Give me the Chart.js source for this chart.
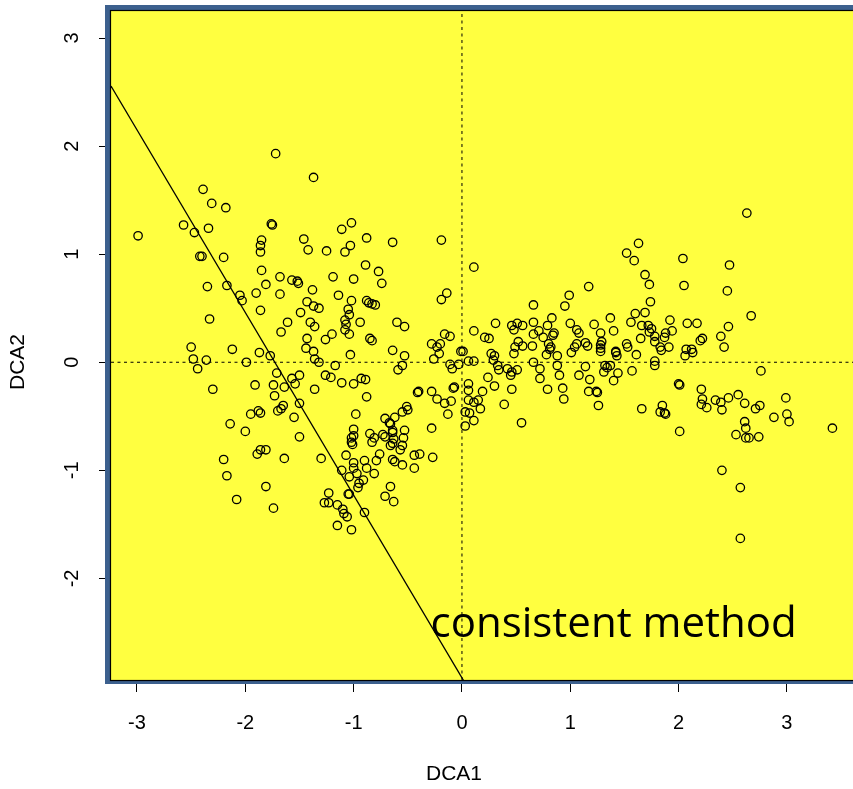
<!DOCTYPE html>
<html>
<head>
<meta charset="utf-8">
<title>DCA</title>
<script src="https://cdn.jsdelivr.net/npm/chart.js@4.4.1/dist/chart.umd.min.js"></script>
<style>
  html, body { margin: 0; padding: 0; background: #fff; }
  #wrap { width: 853px; height: 789px; position: relative; }
</style>
</head>
<body>
<div id="wrap"><canvas id="dcaChart"></canvas></div>
<script>
// ticks and axis ranges
const xTicks = [-3, -2, -1, 0, 1, 2, 3];
const yTicks = [-2, -1, 0, 1, 2, 3];
const xRange = [-3.24, 3.61];
const yRange = [-2.94, 3.25];

const xLabel = 'DCA1';
const yLabel = 'DCA2';
const noteText = 'consistent method';

// straight line drawn over the points (intercept, slope)
const lineIntercept = -2.92;
const lineSlope = -1.69;

// site scores
const dca1 = [
    -2.99,-2.39,-2.31,-2.18,-2.57,-2.47,-2.34,-2.42,-2.40,-2.20,
    -2.35,-2.17,-2.05,-2.03,-2.33,-1.90,-2.50,-2.12,-2.48,-2.36,
    -2.44,-1.99,-1.87,-2.30,-1.91,-1.95,-1.88,-1.86,-2.14,-2.00,
    -1.89,-1.86,-1.81,-2.20,-2.17,-2.08,
    -1.72,-1.37,-1.76,-1.75,-1.02,-1.11,-1.85,-1.86,-1.86,-1.46,
    -1.42,-1.25,-1.03,-1.08,-0.88,-0.64,-0.19,0.11,-1.85,-0.89,
    -0.77,-0.74,-1.68,-1.57,-1.52,-1.51,-1.19,-1.00,-1.81,-1.68,
    -1.38,-1.14,-1.02,-0.88,-0.86,-0.83,-0.80,-1.43,-1.37,-1.32,
    -1.86,-1.49,-1.05,-1.04,-1.08,-1.07,-1.08,-1.04,-1.61,-1.40,
    -1.36,-0.94,-1.67,-0.60,-0.53,-1.20,-1.26,-1.43,-1.44,-1.37,
    -1.36,-1.32,-1.77,-1.03,-0.85,-0.83,-1.17,-0.64,-0.53,-0.55,
    -0.59,-0.28,-0.23,-0.20,-0.16,-0.11,-0.21,-0.26,-0.11,-0.09,
    -0.03,-0.01,0.01,0.06,0.11,0.11,0.21,0.25,0.31,0.46,
    0.48,0.51,0.56,0.66,0.66,0.66,0.71,0.75,0.79,0.80,
    0.52,0.49,0.48,0.56,0.65,0.78,0.27,0.30,0.29,0.33,
    0.34,0.24,0.30,0.46,0.42,0.46,0.51,0.45,0.66,0.72,
    0.72,0.79,0.06,0.06,0.19,-0.08,-0.28,-0.41,-0.40,-0.88,
    -1.74,-1.73,-1.64,-1.54,-1.57,-1.50,-1.71,-1.36,-1.26,-1.21,
    -1.11,-1.00,-0.93,-0.89,-0.19,-0.14,
    -1.50,-1.55,-1.70,-1.67,-1.65,-1.50,-1.64,-1.81,-1.74,-1.30,
    -0.98,-1.00,-1.02,-1.00,-1.02,-1.01,-0.85,-0.81,-0.83,-0.73,
    -0.71,-0.71,-0.67,-0.66,-0.62,-0.64,-0.64,-0.63,-0.64,-0.66,
    -0.57,-0.55,-0.54,-0.53,-0.55,-0.51,-0.50,-0.76,-0.79,-0.90,
    -0.88,-0.81,-0.91,-0.95,-0.96,-1.04,-1.07,-1.00,-1.00,-1.04,
    -1.11,-0.97,-0.64,-0.62,-0.55,-0.44,-0.39,-0.44,-0.27,-0.28,
    -0.66,-0.71,-0.63,-1.23,-1.27,-1.23,-1.15,-1.10,-1.09,-1.06,
    -1.05,-0.90,-1.15,-1.02,-0.23,-0.16,-0.10,-0.07,-0.13,0.11,
    0.06,0.03,0.07,0.03,0.11,0.15,0.17,0.39,0.55,
    2.63,1.63,1.52,1.59,2.04,2.47,1.69,1.73,2.05,1.17,
    0.99,0.95,2.45,1.74,1.69,1.60,1.56,1.37,1.22,1.40,
    1.28,1.29,1.28,1.28,2.67,2.46,2.39,2.08,2.17,1.92,
    1.94,1.88,1.87,1.66,1.72,1.75,1.73,1.78,1.65,1.78,
    2.20,2.22,2.42,2.07,2.12,1.52,1.53,1.42,1.83,1.91,
    0.83,0.85,0.84,0.82,1.00,1.06,1.08,1.06,1.14,1.16,1.04,
    0.81,0.88,0.88,0.90,1.01,1.28,1.14,1.08,1.18,0.93,
    0.94,1.17,1.24,1.25,1.26,1.32,1.34,1.37,1.31,1.44,
    1.40,1.42,1.43,1.61,1.57,1.84,1.78,1.78,2.06,2.13,
    2.76,1.66,2.00,2.01,2.01,1.83,1.85,1.88,1.87,2.21,
    2.22,2.21,2.26,2.34,2.39,2.40,2.46,2.55,2.61,2.71,
    2.75,2.61,2.62,2.53,2.62,2.65,2.74,2.99,3.00,3.02,
    2.88,3.42,2.40,2.57,2.57
];
const dca2 = [
    1.17,1.60,1.47,1.43,1.27,1.20,1.24,0.98,0.98,0.97,
    0.70,0.71,0.62,0.57,0.40,0.64,0.14,0.12,0.03,0.02,
    -0.06,0.00,0.09,-0.25,-0.21,-0.48,-0.45,-0.47,-0.57,-0.64,
    -0.85,-0.81,-0.81,-0.90,-1.05,-1.27,
    1.93,1.71,1.28,1.27,1.29,1.23,1.13,1.08,1.02,1.14,
    1.04,1.03,1.08,1.02,1.15,1.11,1.13,0.88,0.85,0.90,
    0.84,0.73,0.79,0.76,0.75,0.73,0.79,0.77,0.72,0.63,
    0.67,0.62,0.57,0.57,0.55,0.54,0.53,0.56,0.52,0.50,
    0.48,0.46,0.49,0.44,0.39,0.35,0.30,0.26,0.37,0.37,
    0.33,0.37,0.28,0.37,0.33,0.26,0.21,0.22,0.13,0.10,
    0.03,0.00,0.06,0.07,0.22,0.20,-0.03,0.11,0.06,-0.03,
    -0.07,0.17,0.14,0.17,0.26,0.24,0.08,0.03,-0.02,-0.06,
    -0.02,0.10,0.10,0.01,0.01,0.29,0.23,0.22,0.36,0.34,
    0.30,0.36,0.34,0.53,0.37,0.26,0.29,0.23,0.34,0.17,
    0.19,0.14,0.08,0.15,0.15,0.07,0.08,0.06,0.02,-0.03,
    -0.07,-0.14,-0.22,-0.25,-0.06,-0.09,-0.07,-0.12,0.00,-0.06,
    -0.15,-0.25,-0.20,-0.26,-0.27,-0.24,-0.27,-0.28,-0.27,-0.32,
    -0.21,-0.31,-0.23,-0.20,-0.15,-0.12,-0.10,-0.25,-0.12,-0.14,
    -0.19,-0.20,-0.15,-0.16,0.58,0.64,
    -0.38,-0.51,-0.45,-0.43,-0.40,-0.69,-0.89,-1.15,-1.35,-0.89,
    -0.48,-0.62,-0.70,-0.68,-0.74,-0.76,-0.66,-0.70,-0.74,-0.67,
    -0.69,-0.52,-0.56,-0.57,-0.51,-0.63,-0.65,-0.71,-0.75,-0.77,
    -0.81,-0.77,-0.70,-0.63,-0.46,-0.41,-0.44,-0.85,-0.91,-0.91,
    -0.98,-1.03,-1.09,-1.12,-1.16,-1.22,-0.86,-0.93,-0.98,-1.06,
    -1.00,-1.03,-0.90,-0.92,-0.95,-0.86,-0.85,-0.98,-0.88,-0.61,
    -1.15,-1.24,-1.29,-1.21,-1.30,-1.30,-1.32,-1.36,-1.40,-1.43,
    -1.22,-1.39,-1.51,-1.55,-0.34,-0.38,-0.36,-0.23,-0.48,-0.37,
    -0.35,-0.46,-0.47,-0.59,-0.54,-0.35,-0.43,-0.39,-0.56,
    1.38,1.10,1.01,0.94,0.96,0.90,0.81,0.72,0.71,0.70,
    0.62,0.52,0.66,0.56,0.46,0.45,0.37,0.41,0.35,0.29,
    0.27,0.19,0.16,0.13,0.43,0.33,0.24,0.36,0.36,0.39,
    0.29,0.27,0.23,0.34,0.34,0.31,0.28,0.24,0.22,0.19,
    0.20,0.22,0.14,0.12,0.12,0.17,0.14,0.10,0.14,0.14,
    0.41,0.27,0.25,0.14,0.36,0.30,0.27,0.17,0.18,0.15,0.14,
    0.12,0.06,-0.03,-0.12,0.09,0.10,-0.04,-0.12,-0.16,-0.24,
    -0.34,-0.27,-0.27,-0.28,-0.40,-0.03,-0.05,-0.03,-0.09,-0.10,
    -0.17,0.09,0.06,0.07,-0.08,0.11,0.01,-0.03,0.06,0.09,
    -0.08,-0.43,-0.20,-0.21,-0.64,-0.46,-0.40,-0.48,-0.47,-0.25,
    -0.34,-0.39,-0.42,-0.35,-0.37,-0.44,-0.33,-0.30,-0.38,-0.43,
    -0.40,-0.55,-0.61,-0.67,-0.70,-0.70,-0.69,-0.33,-0.48,-0.55,
    -0.51,-0.61,-1.00,-1.16,-1.63
];

const sites = dca1.map((x, i) => ({ x: x, y: dca2[i] }));

// R-style plot frame: yellow panel with a blue edge and a thin black box
const framePlugin = {
    id: 'frame',
    beforeDatasetsDraw(chart) {
        const { ctx, chartArea: a } = chart;
        ctx.save();
        ctx.fillStyle = 'rgb(60,96,142)';
        ctx.fillRect(a.left - 6, a.top - 6, a.right - a.left + 6, a.bottom - a.top + 10);
        ctx.fillStyle = '#ffff40';
        ctx.fillRect(a.left, a.top, a.right - a.left, a.bottom - a.top);
        ctx.strokeStyle = '#000';
        ctx.lineWidth = 1.2;
        ctx.strokeRect(a.left - 0.5, a.top - 0.5, a.right - a.left + 2, a.bottom - a.top + 1);
        ctx.restore();
    },
    afterDraw(chart) {
        const ctx = chart.ctx;
        const xs = chart.scales.x;
        const ys = chart.scales.y;
        ctx.save();
        ctx.fillStyle = '#000';
        // note inside the panel
        ctx.font = '42px "Open Sans"';
        ctx.textAlign = 'left';
        ctx.textBaseline = 'alphabetic';
        ctx.fillText(noteText, xs.getPixelForValue(-0.29), ys.getPixelForValue(-2.54));
        // axis titles
        ctx.font = '21px "Liberation Sans", Arial, sans-serif';
        ctx.textAlign = 'center';
        ctx.textBaseline = 'middle';
        ctx.fillText(xLabel, 454, 774);
        ctx.translate(18, 362);
        ctx.rotate(-Math.PI / 2);
        ctx.fillText(yLabel, 0, 0);
        ctx.restore();
    }
};

const ctx = document.getElementById('dcaChart').getContext('2d');
// eslint-disable-next-line no-undef
new Chart(ctx, {
    type: 'scatter',
    data: {
        datasets: [
            {
                label: 'axis0x',
                data: [{ x: 0, y: yRange[0] }, { x: 0, y: yRange[1] }],
                showLine: true,
                borderColor: '#000',
                borderWidth: 1,
                borderDash: [3, 3.5],
                pointRadius: 0
            },
            {
                label: 'axis0y',
                data: [{ x: xRange[0], y: 0 }, { x: xRange[1], y: 0 }],
                showLine: true,
                borderColor: '#000',
                borderWidth: 1,
                borderDash: [3, 3.5],
                pointRadius: 0
            },
            {
                label: 'sites',
                data: sites,
                pointStyle: 'circle',
                pointRadius: 4.2,
                pointBorderWidth: 1.3,
                borderColor: '#000',
                backgroundColor: 'rgba(0,0,0,0)'
            },
            {
                label: 'line',
                data: xRange.map(x => ({ x: x, y: lineIntercept + lineSlope * x })),
                showLine: true,
                borderColor: '#000',
                borderWidth: 1.3,
                pointRadius: 0
            }
        ]
    },
    options: {
        responsive: true,
        maintainAspectRatio: false,
        devicePixelRatio: 1,
        animation: false,
        layout: { autoPadding: false, padding: { top: 11, right: 0, left: 0, bottom: 0 } },
        plugins: {
            legend: { display: false },
            tooltip: { enabled: false }
        },
        scales: {
            x: {
                type: 'linear',
                min: xRange[0],
                max: xRange[1],
                afterBuildTicks: (s) => { s.ticks = xTicks.map(v => ({ value: v })); },
                afterFit: (s) => {
                    s.height = 109;
                    s.paddingLeft = 0;
                    s.paddingRight = 0;
                },
                border: { display: false },
                grid: { drawOnChartArea: false, drawTicks: true, tickLength: 12, tickColor: '#000', tickWidth: 1 },
                ticks: {
                    color: '#000',
                    padding: 19,
                    maxRotation: 0,
                    font: { family: '"Liberation Sans", Arial, sans-serif', size: 20 },
                    callback: (v) => String(v)
                }
            },
            y: {
                type: 'linear',
                min: yRange[0],
                max: yRange[1],
                afterBuildTicks: (s) => { s.ticks = yTicks.map(v => ({ value: v })); },
                afterFit: (s) => {
                    s.width = 111;
                    s.paddingTop = 0;
                    s.paddingBottom = 0;
                },
                border: { display: false },
                grid: { drawOnChartArea: false, drawTicks: true, tickLength: 12, tickColor: '#000', tickWidth: 1 },
                ticks: {
                    color: '#000',
                    padding: 18,
                    minRotation: 90,
                    maxRotation: 90,
                    crossAlign: 'center',
                    font: { family: '"Liberation Sans", Arial, sans-serif', size: 20 },
                    callback: (v) => String(v)
                }
            }
        }
    },
    plugins: [framePlugin]
});
</script>
</body>
</html>
